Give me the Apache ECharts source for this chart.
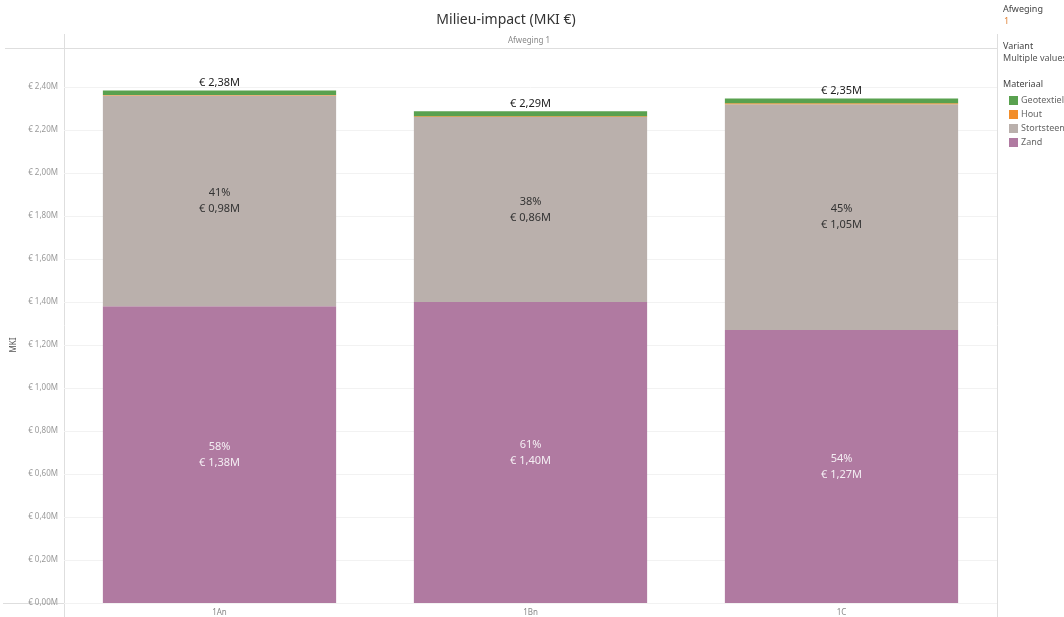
<!DOCTYPE html>
<html><head><meta charset="utf-8">
<script src="https://cdn.jsdelivr.net/npm/echarts@6/dist/echarts.min.js"></script>
<style>html,body{margin:0;padding:0;background:#fff}#c{width:1064px;height:617px}</style>
</head><body><div id="c"></div>
<script>
const categories = ['1An', '1Bn', '1C'];
const zand = [1.38, 1.40, 1.27];
const stortsteen = [0.98, 0.86, 1.05];
const hout = [0.003, 0.004, 0.004];
const geotextiel = [0.021, 0.023, 0.023];
const yTicks = [0, 0.2, 0.4, 0.6, 0.8, 1.0, 1.2, 1.4, 1.6, 1.8, 2.0, 2.2, 2.4];

const FONT = '"Noto Sans", "Open Sans", sans-serif';
const totals = categories.map((c, i) => zand[i] + stortsteen[i] + hout[i] + geotextiel[i]);
const eur = v => '€ ' + v.toFixed(2).replace('.', ',') + 'M';
const segLabel = arr => p => Math.round(arr[p.dataIndex] / totals[p.dataIndex] * 100) + '%\n' + eur(arr[p.dataIndex]);

const chart = echarts.init(document.getElementById('c'), null, {renderer: 'canvas'});
chart.setOption({
  animation: false,
  textStyle: {fontFamily: FONT},
  title: {text: 'Milieu-impact (MKI €)', left: 501, top: 8, textAlign: 'center',
    textStyle: {fontFamily: FONT, fontSize: 14, fontWeight: 'normal', color: '#333'}},
  grid: {left: 64, right: 67, top: 87, bottom: 14, containLabel: false},
  legend: {
    orient: 'vertical', left: 1004, top: 91, itemWidth: 9, itemHeight: 9, itemGap: 5,
    icon: 'rect', data: ['Geotextiel', 'Hout', 'Stortsteen', 'Zand'],
    textStyle: {fontFamily: FONT, fontSize: 9, color: '#666', padding: [0, 0, 0, -2]}
  },
  xAxis: {
    type: 'category', data: categories,
    axisLine: {show: false}, axisTick: {show: false},
    axisLabel: {fontFamily: FONT, fontSize: 8, color: '#888', margin: 6}
  },
  yAxis: {
    type: 'value', min: 0, max: 2.4, interval: 0.2,
    name: 'MKI', nameLocation: 'middle', nameGap: 40, nameRotate: 90,
    nameTextStyle: {fontFamily: FONT, fontSize: 8, color: '#555'},
    axisLine: {show: false}, axisTick: {show: false},
    axisLabel: {fontFamily: FONT, fontSize: 8, color: '#999', margin: 6,
      formatter: v => eur(v)},
    splitLine: {lineStyle: {color: '#f2f2f2', width: 1}}
  },
  series: [
    {name: 'Zand', type: 'bar', stack: 't', data: zand, barWidth: '75%',
      itemStyle: {color: '#b07aa1'},
      label: {show: true, position: 'inside', formatter: segLabel(zand),
        color: '#f4eef3', fontSize: 11, lineHeight: 16, fontFamily: FONT}},
    {name: 'Stortsteen', type: 'bar', stack: 't', data: stortsteen,
      itemStyle: {color: '#bab0ac'},
      label: {show: true, position: 'inside', formatter: segLabel(stortsteen),
        color: '#333', fontSize: 11, lineHeight: 16, fontFamily: FONT}},
    {name: 'Hout', type: 'bar', stack: 't', data: hout,
      itemStyle: {color: '#f28e2b'}},
    {name: 'Geotextiel', type: 'bar', stack: 't', data: geotextiel,
      itemStyle: {color: '#59a14f'},
      label: {show: true, position: 'top', distance: 2,
        formatter: p => eur(totals[p.dataIndex]),
        color: '#222', fontSize: 11, fontFamily: FONT}}
  ],
  graphic: [
    {type: 'line', shape: {x1: 5, y1: 48.5, x2: 997, y2: 48.5}, style: {stroke: '#dedede', lineWidth: 1}, silent: true},
    {type: 'line', shape: {x1: 64.5, y1: 34, x2: 64.5, y2: 617}, style: {stroke: '#dedede', lineWidth: 1}, silent: true},
    {type: 'line', shape: {x1: 997.5, y1: 34, x2: 997.5, y2: 617}, style: {stroke: '#dedede', lineWidth: 1}, silent: true},
    {type: 'line', shape: {x1: 3, y1: 603.5, x2: 997, y2: 603.5}, style: {stroke: '#dedede', lineWidth: 1}, silent: true},
    {type: 'text', left: 508, top: 37, style: {text: 'Afweging 1', font: '8px ' + FONT, fill: '#888'}},
    {type: 'text', left: 1003, top: 5, style: {text: 'Afweging', font: '9px ' + FONT, fill: '#444'}},
    {type: 'text', left: 1004, top: 17, style: {text: '1', font: '9px ' + FONT, fill: '#e0843a'}},
    {type: 'text', left: 1003, top: 42, style: {text: 'Variant', font: '9px ' + FONT, fill: '#444'}},
    {type: 'text', left: 1003, top: 54, style: {text: 'Multiple values', font: '9px ' + FONT, fill: '#555'}},
    {type: 'text', left: 1003, top: 80, style: {text: 'Materiaal', font: '9px ' + FONT, fill: '#444'}}
  ]
});
</script></body></html>
